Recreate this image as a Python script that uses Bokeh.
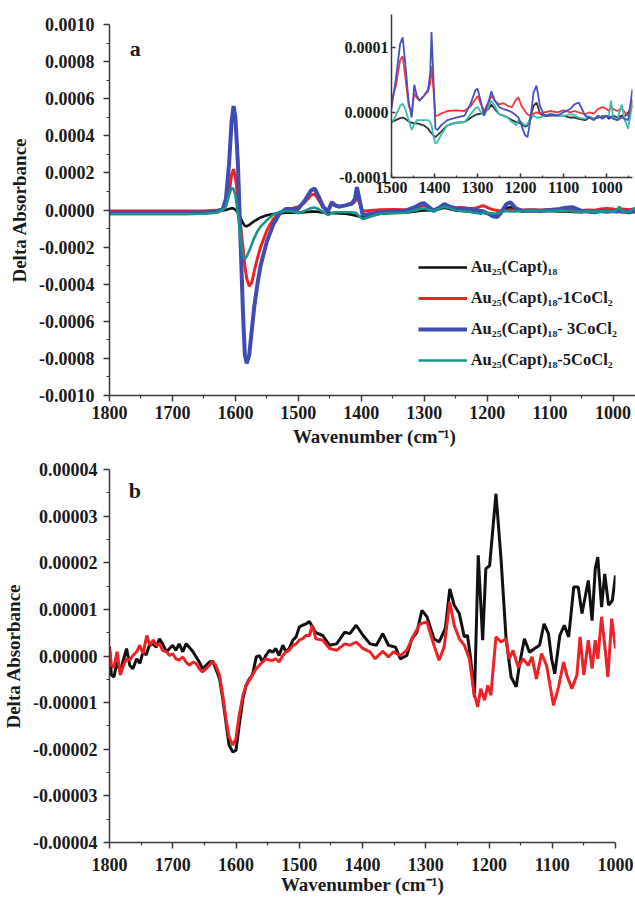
from bokeh.plotting import figure
from bokeh.layouts import column
from bokeh.models import Range1d, FixedTicker, PrintfTickFormatter, Legend, LegendItem, Label
from bokeh.embed import file_html
from bokeh.resources import INLINE

FONT = "Liberation Serif"

# ---------------- Panel a data (wavenumber, delta absorbance) ----------------
wn_a = [1800, 1760, 1720, 1680, 1650, 1630, 1620, 1615, 1610, 1606,
        1603, 1600, 1596, 1592, 1588, 1585, 1582, 1578, 1574, 1570,
        1565, 1560, 1550, 1540, 1530, 1520, 1510, 1500, 1490, 1480,
        1474, 1468, 1460, 1453, 1447, 1441, 1435, 1425, 1415, 1410,
        1407, 1403, 1398, 1393, 1385, 1370, 1350, 1330, 1315, 1305,
        1300, 1292, 1285, 1275, 1268, 1260, 1250, 1240, 1230, 1220,
        1210, 1205, 1198, 1190, 1184, 1178, 1170, 1163, 1155, 1145,
        1130, 1115, 1100, 1085, 1075, 1065, 1050, 1040, 1030, 1020,
        1010, 1000, 995, 990, 985, 975, 965, 958, 950, 940]

au25 = [-8e-6, -8e-6, -8e-6, -8e-6, -8e-6, -6e-6, -3e-6, 0e-6, 6e-6, 10e-6,
        8e-6, 2e-6, -15e-6, -40e-6, -70e-6, -85e-6, -88e-6, -80e-6, -70e-6, -60e-6,
        -50e-6, -40e-6, -28e-6, -22e-6, -18e-6, -15e-6, -14e-6, -15e-6, -12e-6, -9e-6,
        -8e-6, -10e-6, -14e-6, -16e-6, -17e-6, -17e-6, -18e-6, -20e-6, -25e-6, -30e-6,
        -32e-6, -35e-6, -38e-6, -35e-6, -30e-6, -20e-6, -16e-6, -15e-6, -8e-6, -4e-6,
        -3e-6, -2e-6, -1e-6, 5e-6, 12e-6, 5e-6, -3e-6, -5e-6, -8e-6, -12e-6,
        -15e-6, -16e-6, -18e-6, -22e-6, -20e-6, -10e-6, 10e-6, 15e-6, -2e-6, -6e-6,
        -5e-6, -5e-6, -5e-6, -8e-6, -8e-6, -10e-6, -12e-6, -8e-6, -10e-6, -8e-6,
        -6e-6, -6e-6, -10e-6, -8e-6, -5e-6, -8e-6, -5e-6, -6e-6, 0e-6, 10e-6]

au25_1co = [-5e-6, -5e-6, -6e-6, -6e-6, -5e-6, -2e-6, 5e-6, 30e-6, 90e-6, 190e-6,
            220e-6, 180e-6, 60e-6, -80e-6, -200e-6, -300e-6, -370e-6, -410e-6, -390e-6, -330e-6,
            -260e-6, -200e-6, -110e-6, -50e-6, -15e-6, 0e-6, 8e-6, 18e-6, 40e-6, 80e-6,
            86e-6, 55e-6, 10e-6, 0e-6, 29e-6, 22e-6, 18e-6, 25e-6, 32e-6, 45e-6,
            71e-6, 40e-6, -5e-6, -5e-6, -2e-6, 2e-6, 3e-6, 2e-6, 10e-6, 20e-6,
            25e-6, 12e-6, 2e-6, 15e-6, 25e-6, 18e-6, 12e-6, 14e-6, 10e-6, 8e-6,
            20e-6, 23e-6, 10e-6, 2e-6, -3e-6, -5e-6, -2e-6, 0e-6, -2e-6, 0e-6,
            2e-6, 0e-6, 3e-6, 0e-6, 2e-6, 0e-6, -3e-6, 0e-6, -2e-6, 5e-6,
            8e-6, 5e-6, 2e-6, 8e-6, 5e-6, 2e-6, 6e-6, 0e-6, -5e-6, 20e-6]

au25_3co = [-15e-6, -15e-6, -15e-6, -15e-6, -14e-6, -10e-6, 5e-6, 60e-6, 250e-6, 480e-6,
            560e-6, 500e-6, 250e-6, -150e-6, -550e-6, -780e-6, -827e-6, -780e-6, -650e-6, -520e-6,
            -400e-6, -300e-6, -170e-6, -80e-6, -20e-6, 5e-6, 5e-6, 6e-6, 50e-6, 105e-6,
            115e-6, 75e-6, 15e-6, -8e-6, 42e-6, 25e-6, 18e-6, 25e-6, 35e-6, 60e-6,
            123e-6, 60e-6, -25e-6, -27e-6, -20e-6, -12e-6, -8e-6, -5e-6, 15e-6, 34e-6,
            36e-6, 15e-6, -5e-6, 15e-6, 32e-6, 18e-6, 8e-6, 5e-6, 3e-6, 0e-6,
            -5e-6, -8e-6, -20e-6, -35e-6, -38e-6, -15e-6, 30e-6, 41e-6, 10e-6, -5e-6,
            -3e-6, -5e-6, 0e-6, 5e-6, 12e-6, 15e-6, -5e-6, -8e-6, -12e-6, -5e-6,
            -10e-6, -5e-6, -8e-6, -6e-6, -10e-6, -12e-6, -8e-6, -10e-6, -12e-6, 35e-6]

au25_5co = [-22e-6, -22e-6, -22e-6, -22e-6, -20e-6, -15e-6, 0e-6, 20e-6, 80e-6, 118e-6,
            115e-6, 80e-6, -20e-6, -150e-6, -245e-6, -262e-6, -250e-6, -220e-6, -185e-6, -150e-6,
            -115e-6, -90e-6, -55e-6, -25e-6, -10e-6, -5e-6, -8e-6, -17e-6, -5e-6, 10e-6,
            13e-6, 5e-6, -12e-6, -27e-6, -18e-6, -12e-6, -12e-6, -12e-6, -12e-6, -15e-6,
            -20e-6, -35e-6, -48e-6, -45e-6, -35e-6, -20e-6, -16e-6, -15e-6, -2e-6, 6e-6,
            8e-6, 0e-6, -5e-6, 8e-6, 18e-6, 10e-6, -3e-6, -5e-6, -8e-6, -15e-6,
            -20e-6, -12e-6, -15e-6, -20e-6, -18e-6, -12e-6, -5e-6, -8e-6, -8e-6, -5e-6,
            -3e-6, -4e-6, -6e-6, -3e-6, -4e-6, -8e-6, -10e-6, -6e-6, -10e-6, -6e-6,
            -8e-6, -6e-6, -5e-6, 18e-6, -8e-6, -10e-6, 12e-6, -12e-6, -25e-6, 15e-6]

legend_labels = ["Au\u2082\u2085(Capt)\u2081\u2088",
                 "Au\u2082\u2085(Capt)\u2081\u2088-1CoCl\u2082",
                 "Au\u2082\u2085(Capt)\u2081\u2088- 3CoCl\u2082",
                 "Au\u2082\u2085(Capt)\u2081\u2088-5CoCl\u2082"]

# ---------------- Panel b data ----------------
wn_b_black = [1800, 1797, 1793, 1788, 1783, 1778, 1773, 1768, 1763, 1757,
              1752, 1747, 1742, 1737, 1731, 1726, 1721, 1716, 1710, 1705,
              1700, 1695, 1690, 1684, 1679, 1674, 1668, 1663, 1658, 1653,
              1647, 1642, 1637, 1632, 1626, 1621, 1616, 1611, 1605, 1600,
              1595, 1589, 1584, 1579, 1574, 1568, 1563, 1558, 1553, 1547,
              1542, 1537, 1532, 1526, 1521, 1516, 1510, 1505, 1500, 1495,
              1489, 1484, 1479, 1474, 1463, 1452, 1441, 1428, 1420, 1410,
              1399, 1388, 1378, 1368, 1359, 1348, 1340, 1330, 1322, 1314,
              1306, 1298, 1287, 1279, 1269, 1262, 1255, 1247, 1239, 1234,
              1229, 1223, 1217, 1210, 1205, 1199, 1189, 1181, 1173, 1165,
              1157, 1152, 1144, 1136, 1128, 1120, 1113, 1106, 1101, 1096,
              1088, 1081, 1074, 1066, 1059, 1053, 1043, 1037, 1032, 1028,
              1022, 1017, 1011, 1005, 1000]
b_black = [2.0e-6, -4.1e-6, -4.5e-6, -1.3e-6, -3.4e-6, -0.8e-6, 1.6e-6, -2.0e-6, -2.7e-6, -0.6e-6,
           -1.6e-6, 0.9e-6, 0.2e-6, 2.3e-6, 2.6e-6, 1.9e-6, 3.7e-6, 2.6e-6, 0.9e-6, 1.6e-6,
           2.3e-6, 1.2e-6, 2.6e-6, 0.9e-6, 2.6e-6, 1.9e-6, 0.9e-6, -0.2e-6, -1.3e-6, -2.7e-6,
           -2.0e-6, -1.3e-6, -1.1e-6, -2.7e-6, -4.9e-6, -9.1e-6, -14.1e-6, -19.1e-6, -20.6e-6, -20.2e-6,
           -14.9e-6, -9.1e-6, -6.3e-6, -4.9e-6, -4.1e-6, -0.2e-6, 0.1e-6, -1.3e-6, 0.1e-6, 1.2e-6,
           0.8e-6, 1.6e-6, 0.1e-6, 2.3e-6, 0.9e-6, 1.6e-6, 3.4e-6, 4.1e-6, 6.2e-6, 6.6e-6,
           6.9e-6, 7.4e-6, 6.2e-6, 5.0e-6, 4.4e-6, 2.3e-6, 2.6e-6, 5.1e-6, 4.8e-6, 6.6e-6,
           4.4e-6, 2.6e-6, 2.3e-6, 4.8e-6, 2.3e-6, 1.9e-6, -0.6e-6, 0.1e-6, 3.7e-6, 5.1e-6,
           9.8e-6, 8.4e-6, 3.7e-6, 3.0e-6, 5.9e-6, 14.4e-6, 10.9e-6, 9.1e-6, 4.1e-6, 4.4e-6,
           -0.6e-6, -8.8e-6, 21.6e-6, 3.4e-6, 18.7e-6, 19.4e-6, 34.8e-6, 20.9e-6, 3.7e-6, -4.5e-6,
           -6.6e-6, -2.0e-6, 3.7e-6, 0.8e-6, 1.6e-6, 2.3e-6, 6.9e-6, 4.8e-6, -0.6e-6, -3.8e-6,
           4.4e-6, 6.6e-6, 4.1e-6, 14.8e-6, 14.8e-6, 9.1e-6, 16.2e-6, 7.6e-6, 18.7e-6, 21.2e-6,
           10.5e-6, 17.6e-6, 10.9e-6, 11.9e-6, 17.3e-6]

wn_b_red = [1800, 1797, 1793, 1788, 1783, 1778, 1773, 1768, 1763, 1757,
            1752, 1747, 1741, 1736, 1731, 1726, 1721, 1716, 1710, 1705,
            1700, 1695, 1690, 1684, 1679, 1674, 1668, 1663, 1658, 1653,
            1647, 1642, 1637, 1632, 1626, 1621, 1616, 1611, 1605, 1600,
            1595, 1589, 1584, 1579, 1574, 1568, 1563, 1558, 1553, 1547,
            1542, 1537, 1532, 1526, 1521, 1516, 1510, 1505, 1500, 1495,
            1489, 1484, 1479, 1474, 1463, 1452, 1441, 1428, 1420, 1410,
            1399, 1388, 1380, 1368, 1359, 1351, 1340, 1330, 1319, 1309,
            1298, 1287, 1279, 1271, 1262, 1255, 1247, 1239, 1231, 1224,
            1218, 1213, 1207, 1202, 1197, 1189, 1181, 1173, 1168, 1162,
            1154, 1146, 1138, 1132, 1125, 1117, 1109, 1098, 1090, 1082,
            1077, 1069, 1061, 1056, 1050, 1043, 1037, 1032, 1028, 1022,
            1017, 1012, 1006, 1000]
b_red = [1.6e-6, -2.0e-6, -2.4e-6, 0.9e-6, -4.1e-6, -2.0e-6, -0.6e-6, -0.9e-6, 0.1e-6, 0.9e-6,
         2.3e-6, 0.5e-6, 4.4e-6, 2.3e-6, 3.4e-6, 2.3e-6, 2.6e-6, 1.2e-6, 0.9e-6, 0.1e-6,
         0.5e-6, -0.6e-6, -0.9e-6, -0.2e-6, -1.3e-6, -2.0e-6, -1.3e-6, -1.6e-6, -2.7e-6, -3.4e-6,
         -2.7e-6, -2.0e-6, -1.1e-6, -2.0e-6, -4.1e-6, -8.4e-6, -13.4e-6, -17.4e-6, -19.1e-6, -17.7e-6,
         -12.7e-6, -8.4e-6, -6.3e-6, -5.2e-6, -4.1e-6, -2.7e-6, -2.0e-6, -1.3e-6, -0.6e-6, -0.9e-6,
         -0.9e-6, -0.6e-6, -1.3e-6, 0.1e-6, 0.9e-6, 1.2e-6, 2.3e-6, 2.6e-6, 3.4e-6, 3.7e-6,
         4.4e-6, 4.4e-6, 6.6e-6, 3.7e-6, 3.4e-6, 1.6e-6, 1.2e-6, 2.6e-6, 2.3e-6, 3.0e-6,
         1.6e-6, 0.9e-6, -0.6e-6, 1.0e-6, -0.2e-6, 0.9e-6, 0.1e-6, 1.2e-6, 4.4e-6, 6.9e-6,
         7.3e-6, 2.3e-6, -0.9e-6, 1.9e-6, 11.6e-6, 6.6e-6, 3.7e-6, 2.3e-6, -0.6e-6, -7.7e-6,
         -10.9e-6, -7.0e-6, -9.5e-6, -6.3e-6, -8.4e-6, 4.1e-6, 3.0e-6, 3.7e-6, -0.6e-6, 1.2e-6,
         -2.4e-6, -0.6e-6, -2.0e-6, -0.2e-6, -4.9e-6, 0.5e-6, -2.0e-6, -10.6e-6, -6.6e-6, -1.3e-6,
         -4.1e-6, -7.0e-6, -4.1e-6, 4.1e-6, -4.1e-6, 3.4e-6, -2.7e-6, 3.4e-6, -0.6e-6, 8.4e-6,
         2.3e-6, -4.5e-6, 8.0e-6, 1.6e-6]

# ---------------- Tick values ----------------
a_xticks = [1800, 1700, 1600, 1500, 1400, 1300, 1200, 1100, 1000]
a_xminor = [1750, 1650, 1550, 1450, 1350, 1250, 1150, 1050]
a_yticks = [-0.001, -0.0008, -0.0006, -0.0004, -0.0002, 0.0, 0.0002, 0.0004, 0.0006, 0.0008, 0.001]
a_yminor = [-0.0009, -0.0007, -0.0005, -0.0003, -0.0001, 0.0001, 0.0003, 0.0005, 0.0007, 0.0009]
in_xticks = [1500, 1400, 1300, 1200, 1100, 1000]
in_xminor = [1450, 1350, 1250, 1150, 1050, 950]
in_yticks = [-0.0001, 0.0, 0.0001]
b_xticks = a_xticks
b_xminor = a_xminor
b_yticks = [-0.00004, -0.00003, -0.00002, -0.00001, 0.0, 0.00001, 0.00002, 0.00003, 0.00004]
b_yminor = [-0.000035, -0.000025, -0.000015, -0.000005, 0.000005, 0.000015, 0.000025, 0.000035]

C_BLACK = "#111111"
C_RED = "#ec2227"
C_BLUE = "#3f4db3"
C_TEAL = "#17958a"
AXIS_C = "#3a3a3a"


def style_axes(p, tick_size="18px", label_size="19px"):
    for ax in list(p.xaxis) + list(p.yaxis):
        ax.axis_line_color = AXIS_C
        ax.axis_line_width = 1.5
        ax.major_tick_line_color = AXIS_C
        ax.minor_tick_line_color = AXIS_C
        ax.major_tick_line_width = 1.5
        ax.minor_tick_line_width = 1.2
        ax.major_tick_out = 6
        ax.major_tick_in = 0
        ax.minor_tick_out = 3
        ax.minor_tick_in = 0
        ax.major_label_text_font = FONT
        ax.major_label_text_font_style = "bold"
        ax.major_label_text_font_size = tick_size
        ax.major_label_text_color = "#1a1a1a"
        ax.axis_label_text_font = FONT
        ax.axis_label_text_font_style = "bold"
        ax.axis_label_text_font_size = label_size
        ax.axis_label_text_color = "#1a1a1a"
    p.xgrid.visible = False
    p.ygrid.visible = False
    p.outline_line_color = None


# ---------------- Panel a ----------------
pa = figure(frame_width=530, frame_height=371,
            min_border_left=104, min_border_right=1, min_border_top=24, min_border_bottom=55,
            x_range=Range1d(1800, 958), y_range=Range1d(-0.001, 0.001),
            toolbar_location=None, output_backend="svg")
pa.xaxis.ticker = FixedTicker(ticks=a_xticks, minor_ticks=a_xminor)
pa.yaxis.ticker = FixedTicker(ticks=a_yticks, minor_ticks=a_yminor)
pa.yaxis.formatter = PrintfTickFormatter(format="%.4f")
pa.xaxis.axis_label = "Wavenumber (cm\u207b\u00b9)"
pa.yaxis.axis_label = "Delta Absorbance"
style_axes(pa)
pa.xaxis.major_label_standoff = 4
pa.xaxis.axis_label_standoff = 4
pa.yaxis.major_label_standoff = 9
pa.yaxis.axis_label_standoff = 6

r_k = pa.line(wn_a, au25, line_color=C_BLACK, line_width=2.6)
r_r = pa.line(wn_a, au25_1co, line_color=C_RED, line_width=3)
r_b = pa.line(wn_a, au25_3co, line_color=C_BLUE, line_width=4)
r_t = pa.line(wn_a, au25_5co, line_color=C_TEAL, line_width=2.6)

legend = Legend(items=[LegendItem(label=legend_labels[0], renderers=[r_k]),
                       LegendItem(label=legend_labels[1], renderers=[r_r]),
                       LegendItem(label=legend_labels[2], renderers=[r_b]),
                       LegendItem(label=legend_labels[3], renderers=[r_t])],
                location=(314, 25), orientation="vertical",
                border_line_color=None, background_fill_alpha=0,
                padding=0, margin=0, spacing=11,
                glyph_width=49, glyph_height=18, label_height=18, label_standoff=4,
                label_text_font=FONT, label_text_font_style="bold",
                label_text_font_size="16.5px", label_text_color="#1a1a1a")
pa.add_layout(legend)
pa.add_layout(Label(x=1759, y=0.00087, text="a", text_font=FONT, text_font_style="bold",
                    text_font_size="22px", text_align="center", text_baseline="middle",
                    text_color="#1a1a1a"))

# ---------------- Inset ----------------
inset = figure(frame_width=241, frame_height=163,
               min_border_left=109, min_border_right=2, min_border_top=5, min_border_bottom=26,
               x_range=Range1d(1500, 940), y_range=Range1d(-0.0001, 0.00015),
               toolbar_location=None, output_backend="svg")
inset.background_fill_alpha = 0
inset.border_fill_alpha = 0
inset.xaxis.ticker = FixedTicker(ticks=in_xticks, minor_ticks=in_xminor)
inset.yaxis.ticker = FixedTicker(ticks=in_yticks, minor_ticks=[])
inset.yaxis.formatter = PrintfTickFormatter(format="%.4f")
style_axes(inset, tick_size="16px")
for ax in list(inset.xaxis) + list(inset.yaxis):
    ax.major_tick_out = 0
    ax.major_tick_in = 4
    ax.minor_tick_out = 0
    ax.minor_tick_in = 2
inset.yaxis.major_label_standoff = 3
inset.xaxis.major_label_standoff = 4
inset.line(wn_a, au25, line_color="#333333", line_width=1.8)
inset.line(wn_a, au25_1co, line_color="#f0383c", line_width=1.8)
inset.line(wn_a, au25_5co, line_color="#3dbdb0", line_width=1.8)
inset.line(wn_a, au25_3co, line_color="#4a50c0", line_width=1.8)
inset.styles = {"position": "absolute", "left": "282px", "top": "9px", "z-index": "5"}

# ---------------- Panel b ----------------
pb = figure(frame_width=506, frame_height=373,
            min_border_left=107, min_border_right=22, min_border_top=19, min_border_bottom=57,
            x_range=Range1d(1800, 1000), y_range=Range1d(-0.00004, 0.00004),
            toolbar_location=None, output_backend="svg")
pb.xaxis.ticker = FixedTicker(ticks=b_xticks, minor_ticks=b_xminor)
pb.yaxis.ticker = FixedTicker(ticks=b_yticks, minor_ticks=b_yminor)
pb.yaxis.formatter = PrintfTickFormatter(format="%.5f")
pb.xaxis.axis_label = "Wavenumber (cm\u207b\u00b9)"
pb.yaxis.axis_label = "Delta Absorbance"
style_axes(pb)
pb.xaxis.major_label_standoff = 9
pb.xaxis.axis_label_standoff = 0
pb.yaxis.major_label_standoff = 6
pb.yaxis.axis_label_standoff = 6
pb.line(wn_b_black, b_black, line_color=C_BLACK, line_width=3)
pb.line(wn_b_red, b_red, line_color=C_RED, line_width=3)
pb.add_layout(Label(x=1760, y=0.0000356, text="b", text_font=FONT, text_font_style="bold",
                    text_font_size="22px", text_align="center", text_baseline="middle",
                    text_color="#1a1a1a"))

layout = column(pa, pb, inset, spacing=0)
open("out.html", "w").write(file_html(layout, INLINE))
